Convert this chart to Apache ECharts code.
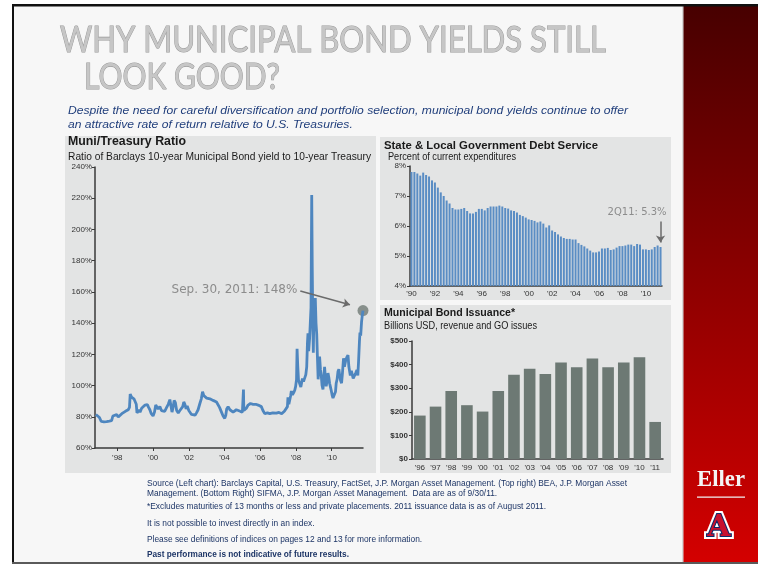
<!DOCTYPE html>
<html>
<head>
<meta charset="utf-8">
<script src="https://cdn.jsdelivr.net/npm/echarts@6/dist/echarts.min.js"></script>
<style>
  html, body { margin: 0; padding: 0; background: #fff; }
  #chart { width: 758px; height: 564px; }
</style>
</head>
<body>
<div id="chart"></div>
<script>
// Muni / Treasury ratio (decimal year, percent)
const ratioYears = [
  1996.80, 1996.90, 1997.00, 1997.10, 1997.25, 1997.40, 1997.55, 1997.68, 1997.75, 1997.85,
  1997.96, 1998.05, 1998.15, 1998.25, 1998.34, 1998.45, 1998.52, 1998.61, 1998.68, 1998.72,
  1998.80, 1998.87, 1998.93, 1999.00, 1999.06, 1999.10, 1999.15, 1999.22, 1999.27, 1999.36,
  1999.45, 1999.55, 1999.62, 1999.68, 1999.75, 1999.82, 1999.90, 2000.00, 2000.08, 2000.15,
  2000.20, 2000.28, 2000.38, 2000.47, 2000.57, 2000.65, 2000.76, 2000.85, 2000.94, 2001.00,
  2001.06, 2001.12, 2001.18, 2001.25, 2001.32, 2001.41, 2001.50, 2001.59, 2001.66, 2001.72,
  2001.78, 2001.85, 2001.91, 2002.00, 2002.06, 2002.15, 2002.25, 2002.35, 2002.43, 2002.52,
  2002.62, 2002.70, 2002.77, 2002.84, 2002.90, 2003.00, 2003.08, 2003.18, 2003.27, 2003.36,
  2003.46, 2003.55, 2003.64, 2003.72, 2003.83, 2003.92, 2004.01, 2004.07, 2004.12, 2004.20,
  2004.30, 2004.39, 2004.48, 2004.57, 2004.66, 2004.76, 2004.88, 2005.00, 2005.04, 2005.06,
  2005.08, 2005.13, 2005.22, 2005.32, 2005.45, 2005.60, 2005.75, 2005.88, 2005.98, 2006.06,
  2006.15, 2006.25, 2006.40, 2006.53, 2006.70, 2006.90, 2007.05, 2007.20, 2007.35, 2007.46,
  2007.52, 2007.55, 2007.60, 2007.65, 2007.70, 2007.74, 2007.80, 2007.87, 2007.93, 2007.98,
  2008.03, 2008.06, 2008.10, 2008.14, 2008.20, 2008.27, 2008.30, 2008.36, 2008.42, 2008.48,
  2008.55, 2008.60, 2008.64, 2008.67, 2008.71, 2008.76, 2008.80, 2008.84, 2008.88, 2008.91,
  2008.94, 2008.97, 2009.00, 2009.04, 2009.08, 2009.12, 2009.16, 2009.20, 2009.24, 2009.28,
  2009.32, 2009.37, 2009.42, 2009.46, 2009.51, 2009.56, 2009.60, 2009.65, 2009.69, 2009.74,
  2009.79, 2009.84, 2009.88, 2009.93, 2009.97, 2010.03, 2010.07, 2010.12, 2010.16, 2010.21,
  2010.25, 2010.30, 2010.35, 2010.40, 2010.45, 2010.50, 2010.55, 2010.60, 2010.66, 2010.71,
  2010.77, 2010.84, 2010.91, 2010.96, 2011.04, 2011.10, 2011.15, 2011.20, 2011.28, 2011.34,
  2011.41, 2011.46, 2011.50, 2011.55, 2011.58, 2011.62, 2011.67, 2011.71, 2011.75
];
const ratioValues = [
  81.5, 80.8, 79.5, 77.0, 76.8, 76.9, 77.2, 77.5, 80.5, 81.0,
  81.4, 79.8, 81.0, 82.0, 81.5, 83.5, 83.0, 84.5, 86.0, 94.5,
  92.5, 93.5, 91.5, 92.0, 88.0, 82.5, 81.5, 84.5, 83.0, 85.5,
  86.0, 87.5, 86.5, 87.8, 86.0, 84.5, 82.0, 80.5, 83.0, 87.5,
  86.5, 85.0, 86.5, 84.0, 85.0, 83.5, 86.0, 88.0, 91.0, 87.0,
  83.0, 86.0, 90.5, 89.0, 84.0, 82.5, 84.0, 84.5, 86.5, 89.5,
  88.0, 85.0, 87.0, 84.0, 83.0, 81.5, 82.5, 81.0, 82.5, 84.5,
  88.5, 91.5, 96.0, 93.5, 94.5, 92.0, 93.0, 91.5, 92.0, 90.5,
  91.0, 89.5, 88.5, 86.0, 83.0, 80.5, 79.0, 81.0, 85.0, 86.5,
  84.5, 84.0, 83.0, 83.5, 84.5, 84.5, 83.5, 83.0, 84.0, 97.5,
  84.0, 83.0, 85.5, 87.5, 88.5, 88.0, 88.0, 87.5, 87.0, 86.5,
  84.0, 82.0, 82.5, 82.0, 82.5, 82.3, 82.8, 82.0, 83.5, 83.0,
  86.5, 92.5, 88.0, 87.5, 93.5, 96.5, 94.0, 95.5, 97.0, 99.5,
  104.0, 123.5, 112.0, 103.5, 101.5, 99.0, 98.0, 104.5, 102.5, 103.5,
  107.0, 112.0, 127.0, 133.5, 122.0, 130.0, 140.0, 150.0, 222.0, 175.0,
  140.0, 121.0, 145.0, 138.0, 156.0, 140.0, 133.0, 118.0, 104.0, 112.0,
  118.5, 110.0, 105.5, 100.0, 97.5, 106.0, 112.0, 104.0, 99.5, 103.0,
  108.0, 105.0, 101.5, 99.0, 97.0, 93.5, 92.0, 93.0, 91.5, 96.0,
  101.5, 104.0, 109.0, 110.5, 106.0, 103.0, 101.5, 108.0, 117.5, 112.0,
  115.5, 118.0, 119.5, 112.0, 106.5, 109.5, 108.5, 104.5, 105.5, 108.0,
  110.0, 106.5, 115.0, 128.0, 134.0, 132.0, 141.0, 145.0, 148.0
];
const ratioTicks = [1998, 2000, 2002, 2004, 2006, 2008, 2010];
const latestRatio = [2011.75, 148];

// State & local debt service, % of current expenditures, quarterly from 1990Q1
const debtStartYear = 1990;
const debtValues = [
  7.80, 7.80, 7.75, 7.68,  7.78, 7.70, 7.65, 7.52,  7.45, 7.28, 7.12, 7.00,
  6.85, 6.75, 6.60, 6.55,  6.55, 6.57, 6.60, 6.50,  6.42, 6.42, 6.47, 6.57,
  6.57, 6.52, 6.60, 6.65,  6.65, 6.65, 6.68, 6.65,  6.60, 6.58, 6.52, 6.50,
  6.45, 6.37, 6.33, 6.28,  6.22, 6.20, 6.17, 6.12,  6.15, 6.08, 5.95, 6.02,
  5.85, 5.80, 5.72, 5.65,  5.60, 5.57, 5.57, 5.55,  5.55, 5.43, 5.37, 5.32,
  5.25, 5.18, 5.12, 5.12,  5.15, 5.25, 5.25, 5.27,  5.20, 5.22, 5.28, 5.33,
  5.33, 5.35, 5.38, 5.38,  5.33, 5.40, 5.38, 5.22,  5.22, 5.20, 5.22, 5.30,
  5.35, 5.30
];
const debtQuarters = debtValues.map((v, i) =>
  (debtStartYear + Math.floor(i / 4)) + 'Q' + (i % 4 + 1));

// Municipal bond issuance, billions USD
const issuanceYears = ["'96", "'97", "'98", "'99", "'00", "'01", "'02", "'03",
  "'04", "'05", "'06", "'07", "'08", "'09", "'10", "'11"];
const issuanceValues = [184, 222, 288, 228, 201, 288, 357, 382,
  360, 409, 389, 426, 389, 409, 431, 157];

const footnotes = [
  'Source (Left chart): Barclays Capital, U.S. Treasury, FactSet, J.P. Morgan Asset Management. (Top right) BEA, J.P. Morgan Asset',
  'Management. (Bottom Right) SIFMA, J.P. Morgan Asset Management.  Data are as of 9/30/11.',
  '*Excludes maturities of 13 months or less and private placements. 2011 issuance data is as of August 2011.',
  'It is not possible to invest directly in an index.',
  'Please see definitions of indices on pages 12 and 13 for more information.',
  'Past performance is not indicative of future results.'
];

const measureCtx = document.createElement('canvas').getContext('2d');
function textWidth(text, size, family, weight, style) {
  measureCtx.font = `${style || 'normal'} ${weight || 'normal'} ${size}px "${family}"`;
  return measureCtx.measureText(text).width;
}

// text element squeezed/stretched to the width it has on the slide
function label(text, x, y, o) {
  const family = o.family || 'Liberation Sans';
  let sx = o.scale || 1;
  if (o.width) sx = o.width / textWidth(text, o.size, family, o.weight, o.style);
  return {
    type: 'text', x, y, scaleX: sx, z: 10,
    style: {
      text, fontSize: o.size, fontFamily: family,
      fontWeight: o.weight || 'normal', fontStyle: o.style || 'normal',
      fill: o.color || '#1a1a1a', stroke: o.stroke || null, lineWidth: o.lineWidth || 0,
      verticalAlign: 'middle', align: o.align || 'left'
    }
  };
}

const sans = 'Liberation Sans';
const subScale = 560 / textWidth('Despite the need for careful diversification and portfolio selection, municipal bond yields continue to offer', 11.5, sans, 'normal', 'italic');
const noteScale = 480 / textWidth(footnotes[0], 9, sans);

const footY = [484, 494, 507, 524, 540, 555];
const footLabels = footnotes.map((t, i) => label(t, 147, footY[i], i === 5
  ? { size: 9, weight: 'bold', color: '#1d3566', width: 202 }
  : { size: 9, color: '#1d3566', scale: noteScale }));

const rect = (x, y, w, h, fill, z) => ({ type: 'rect', shape: { x, y, width: w, height: h }, style: { fill }, z: z || -10, silent: true });

const axisLine = { lineStyle: { color: '#3a3a3a', width: 1.5 } };
const axisTick = { length: 3, lineStyle: { color: '#3a3a3a', width: 1 } };
const axisLabel = { fontSize: 8, color: '#333', fontFamily: sans };
const titleStyle = { size: 36, family: 'Lato', weight: 'normal', color: '#c6c6c6', stroke: '#999999', lineWidth: 1.1 };

const chart = echarts.init(document.getElementById('chart'), null, { renderer: 'canvas' });

const option = {
  animation: false,
  backgroundColor: '#ffffff',
  graphic: [
    rect(13, 6, 670, 556, '#f7f7f7', -20),
    rect(683, 5, 75, 558, new echarts.graphic.LinearGradient(0, 0, 0, 1, [
      { offset: 0, color: '#470000' }, { offset: 0.5, color: '#8e0000' }, { offset: 1, color: '#d40000' }
    ]), -20),
    rect(682, 6, 1.5, 556, '#d8d8d8', -19),
    rect(12, 4, 746, 2.5, '#111111', -19),
    rect(12, 4, 2, 560, '#111111', -19),
    rect(12, 562, 746, 2, '#5a5a5a', -19),
    rect(65, 136, 311, 337, '#e3e4e4'),
    rect(380, 137, 291, 163, '#e3e4e4'),
    rect(380, 305, 291, 168, '#e3e4e4'),

    label('WHY MUNICIPAL BOND YIELDS STILL', 60, 40, { ...titleStyle, width: 546 }),
    label('LOOK GOOD?', 84, 77, { ...titleStyle, width: 196 }),
    label('Despite the need for careful diversification and portfolio selection, municipal bond yields continue to offer', 68, 111, { size: 11.5, style: 'italic', color: '#213f7c', scale: subScale }),
    label('an attractive rate of return relative to U.S. Treasuries.', 68, 125, { size: 11.5, style: 'italic', color: '#213f7c', scale: subScale }),

    label('Muni/Treasury Ratio', 68, 142, { size: 12, weight: 'bold', width: 118 }),
    label('Ratio of Barclays 10-year Municipal Bond yield to 10-year Treasury', 68, 157, { size: 11.5, width: 303 }),
    label('State & Local Government Debt Service', 384, 146, { size: 11, weight: 'bold', width: 214 }),
    label('Percent of current expenditures', 388, 157.5, { size: 10.5, width: 128 }),
    label('Municipal Bond Issuance*', 384, 313, { size: 11, weight: 'bold', width: 131 }),
    label('Billions USD, revenue and GO issues', 384, 326, { size: 10.5, width: 153 }),

    ...footLabels,

    label('Eller', 721, 480, { size: 24, family: 'Liberation Serif', weight: 'bold', color: '#f4f4f4', align: 'center', width: 48 }),
    rect(697, 496.5, 48, 1.2, '#f0f0f0', 10),
    label('A', 719, 528, { size: 30, family: 'DejaVu Serif', weight: 'bold', color: '#ffffff', stroke: '#ffffff', lineWidth: 6, align: 'center' }),
    label('A', 719, 528, { size: 30, family: 'DejaVu Serif', weight: 'bold', color: '#c8102e', stroke: '#0c2a6b', lineWidth: 2, align: 'center' })
  ],
  grid: [
    { left: 95, top: 167, width: 268, height: 281 },
    { left: 410, top: 166, width: 252, height: 120 },
    { left: 412, top: 341, width: 251, height: 118 }
  ],
  xAxis: [
    {
      gridIndex: 0, type: 'value', min: 1996.75, max: 2011.75,
      axisLine, splitLine: { show: false },
      axisTick: { ...axisTick, customValues: ratioTicks },
      axisLabel: { ...axisLabel, margin: 6, customValues: ratioTicks, formatter: v => "'" + String(v).slice(2) }
    },
    {
      gridIndex: 1, type: 'category', data: debtQuarters,
      axisLine, axisTick: { ...axisTick, interval: 7, alignWithLabel: true },
      axisLabel: { ...axisLabel, margin: 4, interval: 7, formatter: v => "'" + v.slice(2, 4) }
    },
    {
      gridIndex: 2, type: 'category', data: issuanceYears,
      axisLine, axisTick,
      axisLabel: { ...axisLabel, margin: 5 }
    }
  ],
  yAxis: [
    {
      gridIndex: 0, type: 'value', min: 60, max: 240, interval: 20,
      axisLine: { show: true, ...axisLine }, axisTick: { show: true, ...axisTick },
      splitLine: { show: false },
      axisLabel: { ...axisLabel, margin: 3, formatter: '{value}%' }
    },
    {
      gridIndex: 1, type: 'value', min: 4, max: 8, interval: 1,
      axisLine: { show: true, ...axisLine }, axisTick: { show: true, ...axisTick },
      splitLine: { show: false },
      axisLabel: { ...axisLabel, margin: 4, formatter: '{value}%' }
    },
    {
      gridIndex: 2, type: 'value', min: 0, max: 500, interval: 100,
      axisLine: { show: true, ...axisLine }, axisTick: { show: true, ...axisTick },
      splitLine: { show: false },
      axisLabel: { ...axisLabel, margin: 4, fontWeight: 'bold', formatter: '${value}' }
    }
  ],
  series: [
    {
      type: 'line', xAxisIndex: 0, yAxisIndex: 0,
      data: ratioYears.map((y, i) => [y, ratioValues[i]]),
      showSymbol: false, symbol: 'none',
      lineStyle: { color: '#4e86bf', width: 2.8 },
      markLine: {
        silent: true, symbol: ['none', 'arrow'], symbolSize: 7,
        lineStyle: { color: '#6b6b6b', width: 1.5, type: 'solid' },
        label: { show: true, position: 'start', formatter: 'Sep. 30, 2011: 148%', color: '#8c8c8c', fontSize: 12, fontFamily: 'DejaVu Sans', distance: 3 },
        data: [[{ coord: [2008.24, 160.6] }, { coord: [2011.02, 151.7] }]]
      }
    },
    {
      type: 'scatter', xAxisIndex: 0, yAxisIndex: 0, clip: false,
      data: [latestRatio], symbolSize: 11,
      itemStyle: { color: '#6f7974' }
    },
    {
      type: 'bar', xAxisIndex: 1, yAxisIndex: 1,
      data: debtValues, barWidth: 2,
      itemStyle: { color: '#5a8dc4' },
      markLine: {
        silent: true, symbol: ['none', 'arrow'], symbolSize: 7,
        lineStyle: { color: '#6b6b6b', width: 1.5, type: 'solid' },
        label: { show: true, position: 'start', formatter: '2Q11: 5.3%', color: '#8c8c8c', fontSize: 10, fontFamily: 'DejaVu Sans', distance: 4, align: 'right', offset: [6, 0] },
        data: [[{ coord: [debtQuarters[85], 6.15] }, { coord: [debtQuarters[85], 5.45] }]]
      }
    },
    {
      type: 'bar', xAxisIndex: 2, yAxisIndex: 2,
      data: issuanceValues, barWidth: '74%',
      itemStyle: { color: '#6d7974' }
    }
  ]
};

chart.setOption(option);
</script>
</body>
</html>
